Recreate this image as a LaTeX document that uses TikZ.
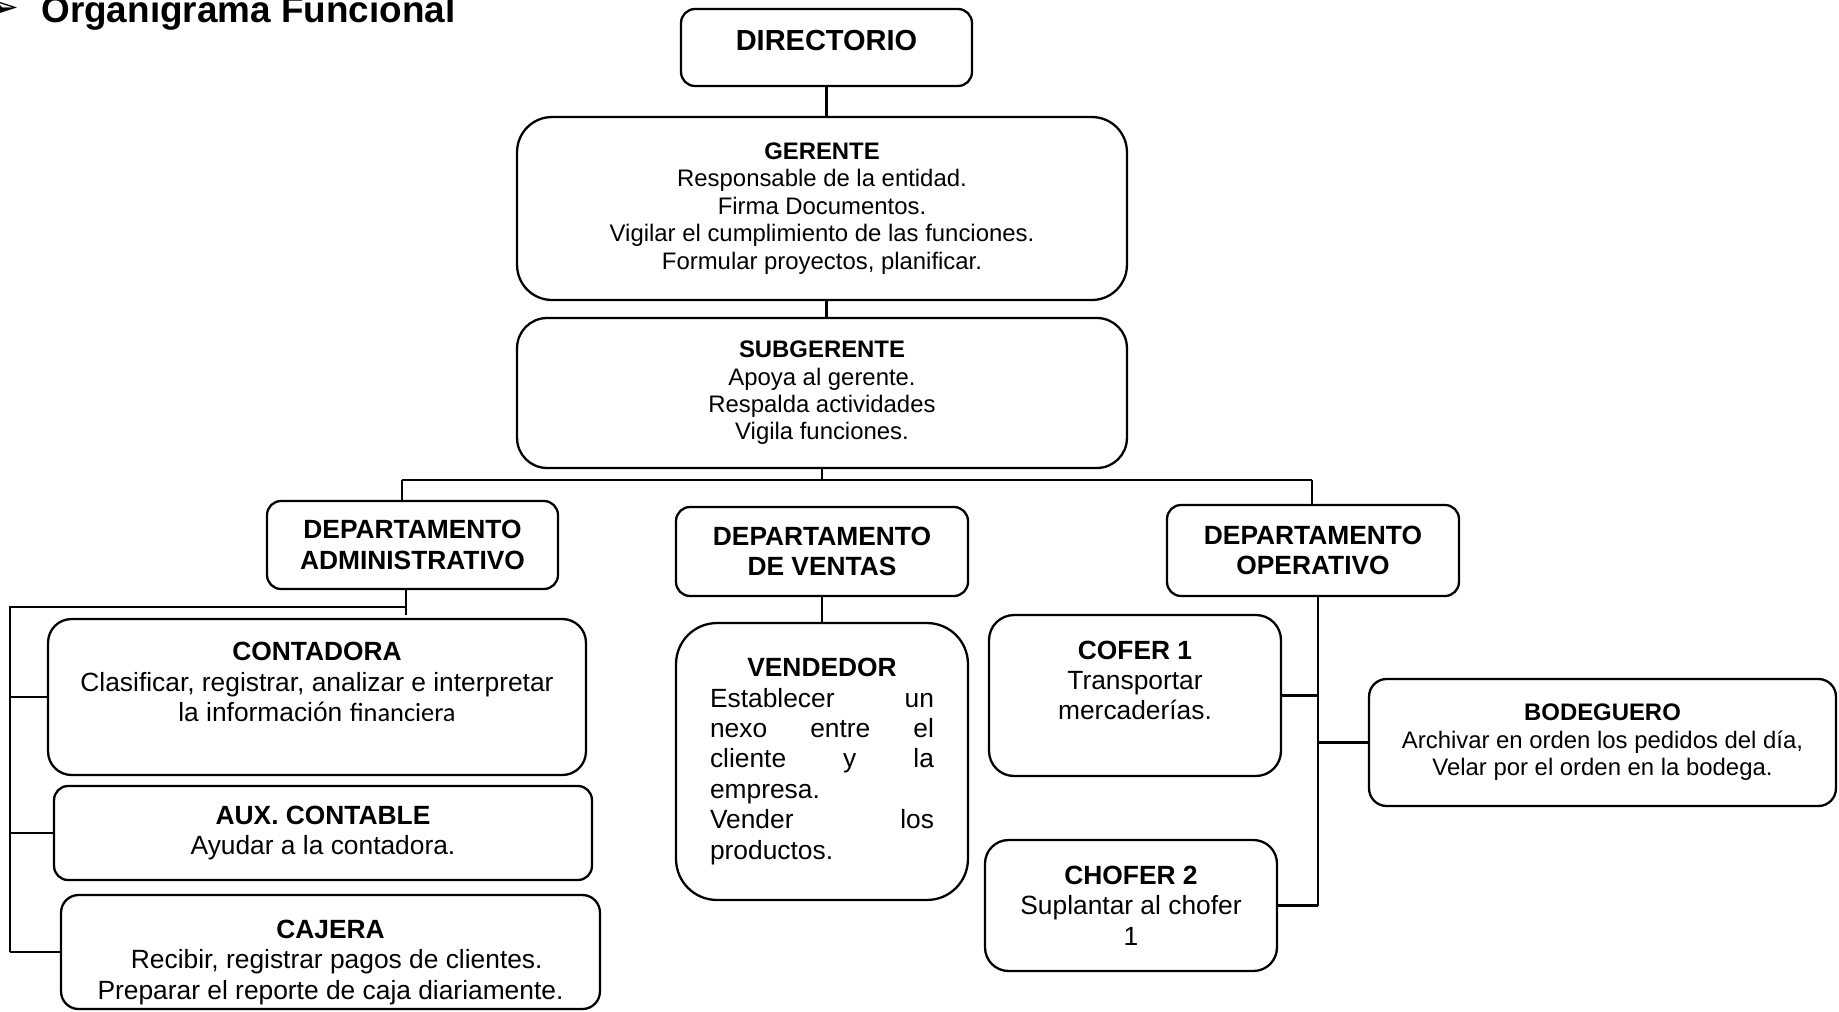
\documentclass[tikz,border=0pt]{standalone}
\usepackage{fontspec}
\setmainfont{Liberation Sans}
\newfontfamily\calibri{Carlito}
\newfontfamily\simbolo{DejaVu Sans}
\newcommand{\ftit}{\fontsize{21}{24}\selectfont\bfseries}
\newcommand{\fdir}{\fontsize{16.5}{19}\selectfont\bfseries}
\newcommand{\fger}{\fontsize{13.6}{15.6}\selectfont}
\newcommand{\fdep}{\fontsize{15}{17.3}\selectfont\bfseries}
\newcommand{\fbaj}{\fontsize{15}{17.3}\selectfont}
\begin{document}
\begin{tikzpicture}[x=0.02cm,y=-0.02cm,
	caja/.style={draw,line width=1.3pt,rounded corners=#1,align=center,inner sep=0pt},
	caja/.default=0.3cm,
	linea/.style={line width=1.3pt}]
	  \useasboundingbox (0,0) rectangle (1839,1011);
	  \node[anchor=base east,inner sep=0pt,font=\simbolo\fontsize{21}{24}\selectfont] (flecha) at (20,19) {➢};
	  \node[anchor=base west,inner sep=0pt,font=\ftit] (titulo) at (41,22) {Organigrama Funcional};
	  \node[caja=0.28cm,minimum width=5.82cm,minimum height=1.54cm,text depth=0.3cm,font=\fdir] (dir) at (826.5,47.5) {DIRECTORIO};
	  \node[caja=0.7cm,minimum width=12.2cm,minimum height=3.66cm,font=\fger] (ger) at (822,208.5) {\textbf{GERENTE}\\Responsable de la entidad.\\Firma Documentos.\\Vigilar el cumplimiento de las funciones.\\Formular proyectos, planificar.};
	  \node[caja=0.6cm,minimum width=12.2cm,minimum height=3cm,font=\fger] (sub) at (822,393) {\textbf{SUBGERENTE}\\Apoya al gerente.\\Respalda actividades\\Vigila funciones.};
	  \node[caja=0.28cm,minimum width=5.82cm,minimum height=1.76cm,font=\fdep] (adm) at (412.5,545) {DEPARTAMENTO\\ADMINISTRATIVO};
	  \node[caja=0.28cm,minimum width=5.84cm,minimum height=1.78cm,font=\fdep] (ven) at (822,551.5) {DEPARTAMENTO\\DE VENTAS};
	  \node[caja=0.28cm,minimum width=5.84cm,minimum height=1.82cm,font=\fdep] (ope) at (1313,550.5) {DEPARTAMENTO\\OPERATIVO};
	  \node[caja=0.47cm,minimum width=10.76cm,minimum height=3.12cm,font=\fbaj] (cont) at (317,697) {\textbf{CONTADORA}\\Clasificar, registrar, analizar e interpretar\\la información {\calibri financiera}\\ \mbox{}};
	  \node[caja=0.28cm,minimum width=10.76cm,minimum height=1.88cm,font=\fbaj] (aux) at (323,833) {\textbf{AUX. CONTABLE}\\Ayudar a la contadora.};
	  \node[caja=0.35cm,minimum width=10.78cm,minimum height=2.28cm] (caj) at (330.5,952) {};
	  \begin{scope}
	    \clip (40,890) rectangle (620,1004);
	    \node[align=center,inner sep=0pt,font=\fbaj] (cajtxt) at (330.5,962.5) {\textbf{CAJERA}\\\hspace*{0.25cm}Recibir, registrar pagos de clientes.\\Preparar el reporte de caja diariamente.};
	  \end{scope}
	  \node[caja=0.82cm,minimum width=5.84cm,minimum height=5.54cm,font=\fbaj,text width=4.48cm,align=justify] (vend) at (822,761.5) {\null\hfill\textbf{VENDEDOR}\hfill\null\\Establecer\hfill un\\nexo\hfill entre\hfill el\\cliente\hfill y\hfill la\\empresa.\\Vender\hfill los\\productos.};
	  \node[caja=0.5cm,minimum width=5.84cm,minimum height=3.22cm,font=\fbaj] (cof) at (1135,695.5) {\textbf{COFER 1}\\Transportar\\mercaderías.\\ \mbox{}};
	  \node[caja=0.47cm,minimum width=5.84cm,minimum height=2.62cm,font=\fbaj] (cho) at (1131,905.5) {\textbf{CHOFER 2}\\Suplantar al chofer\\1};
	  \node[caja=0.35cm,minimum width=9.34cm,minimum height=2.54cm,font=\fger] (bod) at (1602.5,742.5) {\textbf{BODEGUERO}\\Archivar en orden los pedidos del día,\\Velar por el orden en la bodega.};
	  \coordinate (busL) at (402,480);
	  \coordinate (busR) at (1312,480);
	  \coordinate (admB) at (406,607);
	  \coordinate (admL) at (10,607);
	  \coordinate (opeS) at (1318,596);
	  \draw[linea] (dir.south) -- (dir.south |- ger.north);
	  \draw[linea] (dir.south |- ger.south) -- (dir.south |- sub.north);
	  \draw[linea] (sub.south) -- (sub.south |- busL);
	  \draw[linea] (busL) -- (busR);
	  \draw[linea] (busL) -- (busL |- adm.north);
	  \draw[linea] (busR) -- (busR |- ope.north);
	  \draw[linea] (admB |- adm.south) -- ([yshift=-0.16cm]admB);
	  \draw[linea] (admB) -- (admL) -- (admL |- caj.west);
	  \draw[linea] (admL |- cont.west) -- (cont.west);
	  \draw[linea] (admL |- aux.west) -- (aux.west);
	  \draw[linea] (admL |- caj.west) -- (caj.west);
	  \draw[linea] (ven.south) -- (vend.north);
	  \draw[linea] (opeS) -- (opeS |- cho.east);
	  \draw[linea] (cof.east) -- (cof.east -| opeS);
	  \draw[linea] (bod.west) -- (bod.west -| opeS);
	  \draw[linea] (cho.east) -- (cho.east -| opeS);
	\end{tikzpicture}
\end{document}
